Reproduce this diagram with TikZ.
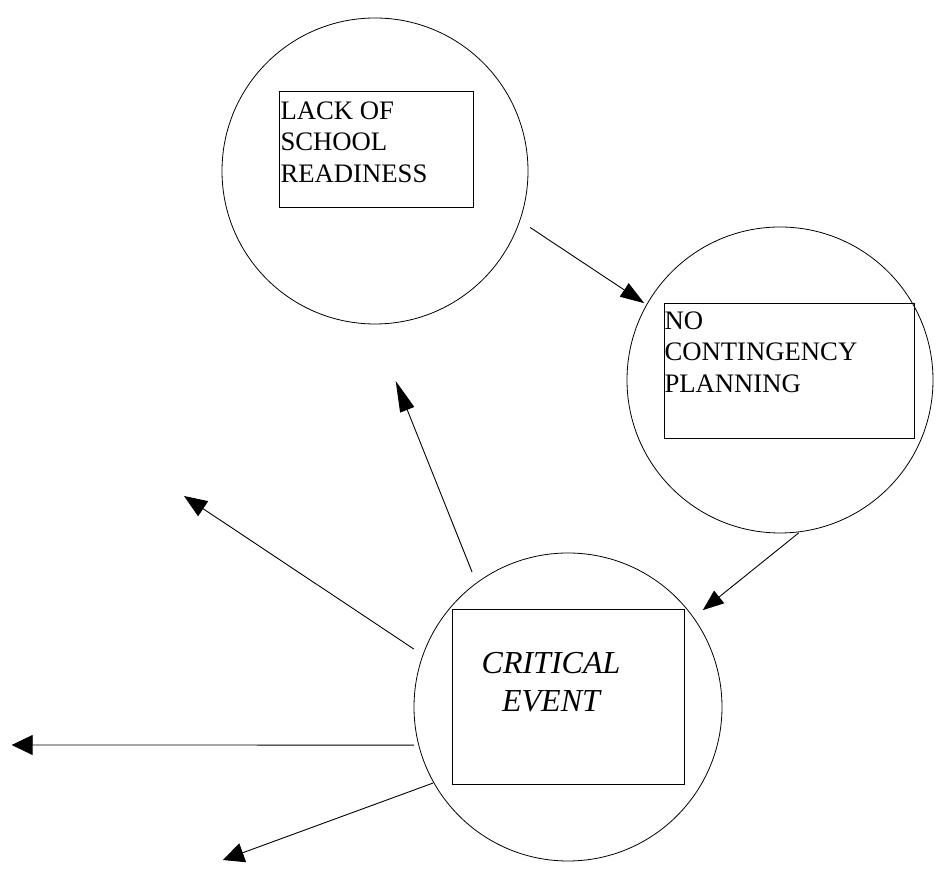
\documentclass[tikz,border=0pt]{standalone}
\usepackage{fontspec}
\setmainfont{Liberation Serif}
\usetikzlibrary{arrows.meta,calc}

\tikzset{
  ring/.style={circle, draw, line width=0.8pt, inner sep=0pt, outer sep=0pt},
  box/.style={rectangle, draw, line width=1pt, inner sep=0pt, outer sep=0pt},
  label/.style={inner sep=0pt, outer sep=0pt},
  link/.style={line width=0.9pt},
  head/.style 2 args={-{Triangle[length=#1pt,width=#2pt]}}
}

\newcommand{\boxtext}[1]{\parbox[t]{250pt}{\raggedright\fontsize{26.7}{31.6}\selectfont #1}}

\begin{document}
\begin{tikzpicture}[x=1pt,y=1pt]
  \useasboundingbox (0,0) rectangle (938,877);

  % three circles
  \node[ring, minimum size=306pt] (c1) at (375,706) {};
  \node[ring, minimum size=306pt] (c2) at (780,497) {};
  \node[ring, minimum size=308pt] (c3) at (568,170) {};

  % boxes inside the circles
  \node[box, minimum width=194pt, minimum height=116pt] (r1) at (376,727) {};
  \node[box, minimum width=250pt, minimum height=135pt] (r2) at (789,505.5) {};
  \node[box, minimum width=232pt, minimum height=175pt] (r3) at (568,179.5) {};

  % captions
  \node[label, anchor=base west] (t1) at (280.5,757.7)
    {\boxtext{LACK OF\\SCHOOL\\READINESS}};
  \node[label, anchor=base west] (t2) at (664.5,547.7)
    {\boxtext{NO\\CONTINGENCY\\PLANNING}};
  \node[label, anchor=base] (t3) at (551,203)
    {\parbox[t]{240pt}{\centering\itshape\fontsize{32}{37.7}\selectfont CRITICAL\\EVENT}};

  % free ends of the outgoing arrows
  \coordinate (e3) at (395.7,496);
  \coordinate (e4) at (184,381);
  \coordinate (e5) at (11.7,132);
  \coordinate (e6) at (223,17);

  % chain between the circles
  \draw[link, head={24}{16}] ($(c1.center)+(-20:165)$) -- ($(c2.center)+(150.5:156)$);
  \draw[link, head={21}{16}] ($(c2.center)+(-83:154)$) -- ($(c3.center)+(35.7:166)$);

  % arrows leaving the critical event
  \draw[link, head={31}{15}] ($(c3.center)+(125.4:165.6)$) -- (e3);
  \draw[link, head={23}{18}] ($(c3.center)+(159.4:164.6)$) -- (e4);
  \draw[link, head={21}{20}] ($(c3.center)+(193.9:158.6)$) -- (e5);
  \draw[link, head={21}{20}] ($(c3.center)+(209.4:155)$) -- (e6);
\end{tikzpicture}
\end{document}
